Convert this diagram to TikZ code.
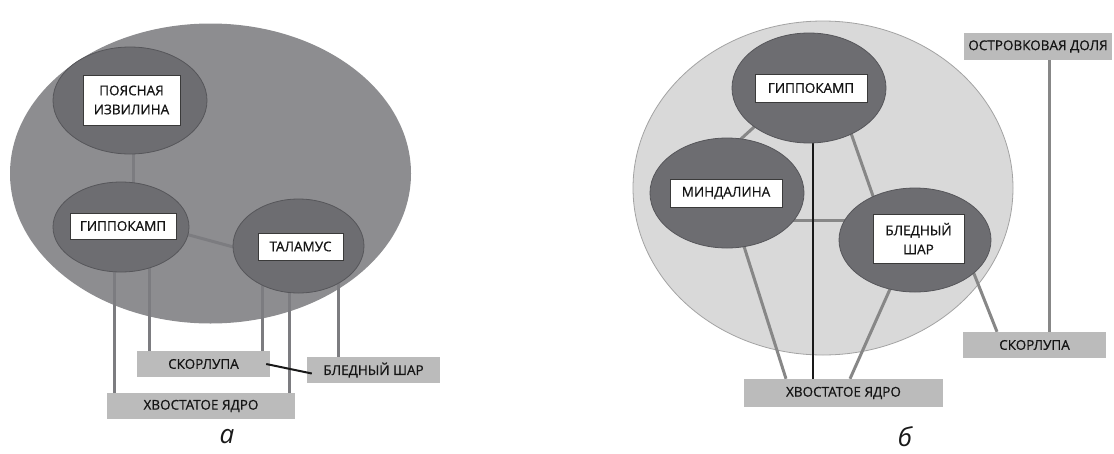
\documentclass[tikz,border=0pt]{standalone}
\usepackage{fontspec}
\setmainfont{Open Sans}
\newfontfamily\boxfont[FakeBold=0.6]{Open Sans}
\usetikzlibrary{shapes.geometric,calc}
\pgfdeclarelayer{back}
\pgfdeclarelayer{mid}
\pgfsetlayers{back,mid,main}
\definecolor{bigAfill}{HTML}{8D8D90}
\definecolor{bigBfill}{HTML}{D9D9D9}
\definecolor{bigBdraw}{HTML}{A3A3A3}
\definecolor{smallfill}{HTML}{6D6D71}
\definecolor{smalldraw}{HTML}{56565A}
\definecolor{boxfill}{HTML}{BBBBBB}
\definecolor{linkA}{HTML}{7C7C80}
\definecolor{linkB}{HTML}{878787}
\definecolor{labdraw}{HTML}{3A3A3A}
\begin{document}
\begin{tikzpicture}[x=1pt,y=-1pt,
  txt/.style={font=\boxfont\fontsize{13.5}{19}\selectfont, text=black!92},
  bigA/.style={ellipse, fill=bigAfill, draw=none, inner sep=0pt},
  bigB/.style={ellipse, fill=bigBfill, draw=bigBdraw, line width=0.8pt, inner sep=0pt},
  region/.style={ellipse, fill=smallfill, draw=smalldraw, line width=0.8pt, inner sep=0pt},
  label/.style={rectangle, fill=white, draw=labdraw, line width=0.6pt, inner sep=0pt, align=center, txt},
  graybox/.style={rectangle, fill=boxfill, draw=none, inner sep=0pt, align=center, txt},
  linka/.style={draw=linkA, line width=3pt},
  linkb/.style={draw=linkB, line width=3pt},
  blacklink/.style={draw=black!90, line width=2pt},
  panel/.style={font=\fontsize{26}{28}\selectfont\itshape, text=black!90}
]
\useasboundingbox (0,0) rectangle (1114,453);

% ---------- panel a ----------
\begin{pgfonlayer}{back}
\node[bigA, minimum width=401pt, minimum height=300pt] (bigA) at (210.5,173.5) {};
\end{pgfonlayer}
\node[region, minimum width=154pt, minimum height=107pt] (cing) at (130,100.5) {};
\node[region, minimum width=136pt, minimum height=90pt] (hipA) at (121,227) {};
\node[region, minimum width=131pt, minimum height=94pt] (thal) at (298.5,246) {};
\node[label, minimum width=97pt, minimum height=50pt] (cingL) at (131.5,100) {ПОЯСНАЯ\\ИЗВИЛИНА};
\node[label, minimum width=106pt, minimum height=26pt] (hipAL) at (123,226) {ГИППОКАМП};
\node[label, minimum width=85pt, minimum height=27pt] (thalL) at (300.5,246.5) {ТАЛАМУС};
\node[graybox, minimum width=133pt, minimum height=26pt] (skA) at (203.5,364) {СКОРЛУПА};
\node[graybox, minimum width=133pt, minimum height=26pt] (blA) at (373.5,370) {БЛЕДНЫЙ ШАР};
\node[graybox, minimum width=188pt, minimum height=26pt] (cauA) at (201,406) {ХВОСТАТОЕ ЯДРО};

\begin{pgfonlayer}{mid}
\draw[linka] ([xshift=3pt]cing.center) -- ([xshift=3pt]cing.center |- hipA.center);
\draw[linka] ($(hipA.center)+(60,5.8)$) -- ($(thal.center)+(-57,3.2)$);
\draw[linka] ([xshift=-7pt]hipA.center) -- ([xshift=-7pt]hipA.center |- cauA.north);
\draw[linka] ([xshift=28pt]hipA.center) -- ([xshift=28pt]hipA.center |- skA.north);
\draw[linka] ([xshift=-36pt]thal.center) -- ([xshift=-36pt]thal.center |- skA.north);
\draw[linka] ([xshift=-9pt]thal.center) -- ([xshift=-9pt]thal.center |- cauA.north);
\draw[linka] ([xshift=40pt]thal.center) -- ([xshift=40pt]thal.center |- blA.north);
\end{pgfonlayer}
\draw[blacklink] ([xshift=-4pt]skA.east) -- ([xshift=5pt,yshift=-3.5pt]blA.west);

\node[panel] (pa) at (227,437) {а};

% ---------- panel b ----------
\begin{pgfonlayer}{back}
\node[bigB, minimum width=380pt, minimum height=334pt] (bigB) at (823,188) {};
\end{pgfonlayer}
\node[region, minimum width=154pt, minimum height=110pt] (hipB) at (809,88) {};
\node[region, minimum width=154pt, minimum height=110pt] (amyg) at (727,193) {};
\node[region, minimum width=152pt, minimum height=104pt] (pall) at (915,240) {};
\node[label, minimum width=112pt, minimum height=28pt] (hipBL) at (811,88) {ГИППОКАМП};
\node[label, minimum width=112pt, minimum height=28pt] (amygL) at (726,193) {МИНДАЛИНА};
\node[label, minimum width=91pt, minimum height=49pt] (pallL) at (918.5,238.5) {БЛЕДНЫЙ\\ШАР};
\node[graybox, minimum width=148pt, minimum height=27pt] (insB) at (1038,46.5) {ОСТРОВКОВАЯ ДОЛЯ};
\node[graybox, minimum width=143pt, minimum height=26pt] (skB) at (1034.5,345) {СКОРЛУПА};
\node[graybox, minimum width=199pt, minimum height=28pt] (cauB) at (843.5,393) {ХВОСТАТОЕ ЯДРО};

\begin{pgfonlayer}{mid}
\draw[linkb] ($(hipB.center)+(-34,20)$) -- ($(amyg.center)+(-7,-35)$);
\draw[linkb] ($(hipB.center)+(36,28)$) -- ($(pall.center)+(-35,-24)$);
\draw[linkb] ($(amyg.center)+(33,27)$) -- ($(pall.center)+(-35,-20)$);
\draw[linkb] ($(amyg.center)+(8,25)$) -- ($(cauB.north)+(-57.5,0)$);
\draw[linkb] ($(pall.center)+(-12,20)$) -- ($(cauB.north)+(6.5,0)$);
\draw[linkb] ($(pall.center)+(49.6,10)$) -- ($(skB.north)+(-37.5,0)$);
\draw[linkb] ([xshift=11pt]insB.south) -- ([xshift=11pt]insB.south |- skB.north);
\draw[blacklink] ([xshift=4pt]hipB.center) -- ([xshift=4pt]hipB.center |- cauB.north);
\end{pgfonlayer}

\node[panel] (pb) at (905,437) {б};
\end{tikzpicture}
\end{document}
